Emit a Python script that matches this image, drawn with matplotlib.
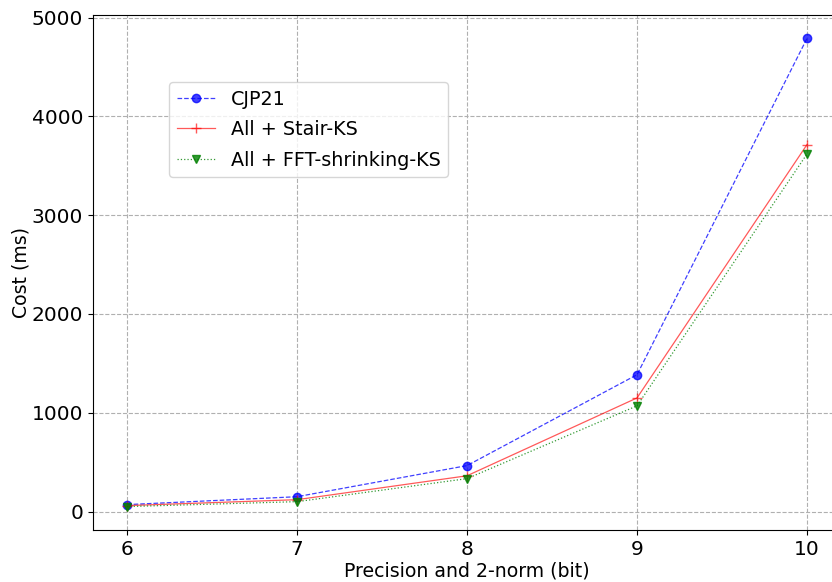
import matplotlib.pyplot as plt

bits = [6, 7, 8, 9, 10]
cjp21 = [70, 150, 465, 1385, 4790]
stair_ks = [60, 120, 362, 1150, 3715]
fft_ks = [50, 100, 333, 1070, 3620]

fig = plt.figure(figsize=(8.32, 5.82), dpi=100)
# right edge of the axes falls outside the picture, as in the reference
ax = fig.add_axes([93 / 832, 52 / 582, 748 / 832, 515 / 582])

ax.plot(bits, cjp21, 'o--', color='blue', alpha=0.75, lw=0.9, ms=6, label='CJP21')
ax.plot(bits, stair_ks, '+-', color='red', alpha=0.65, lw=0.9, ms=7, label='All + Stair-KS')
ax.plot(bits, fft_ks, 'v:', color='green', alpha=0.8, lw=0.9, ms=6, label='All + FFT-shrinking-KS')

ax.set_xticks(bits)
ax.set_xlabel('Precision and 2-norm (bit)', fontsize=13.6, labelpad=2)
ax.set_ylabel('Cost (ms)', fontsize=13.6, labelpad=1)
ax.tick_params(labelsize=14.5)
ax.grid(True, linestyle='--', color='#b0b0b0', lw=0.8)
ax.legend(loc='upper left', bbox_to_anchor=(0.102, 0.87), borderaxespad=0, fontsize=13.8,
          labelspacing=0.6)

fig.savefig('out.png', dpi=100)
